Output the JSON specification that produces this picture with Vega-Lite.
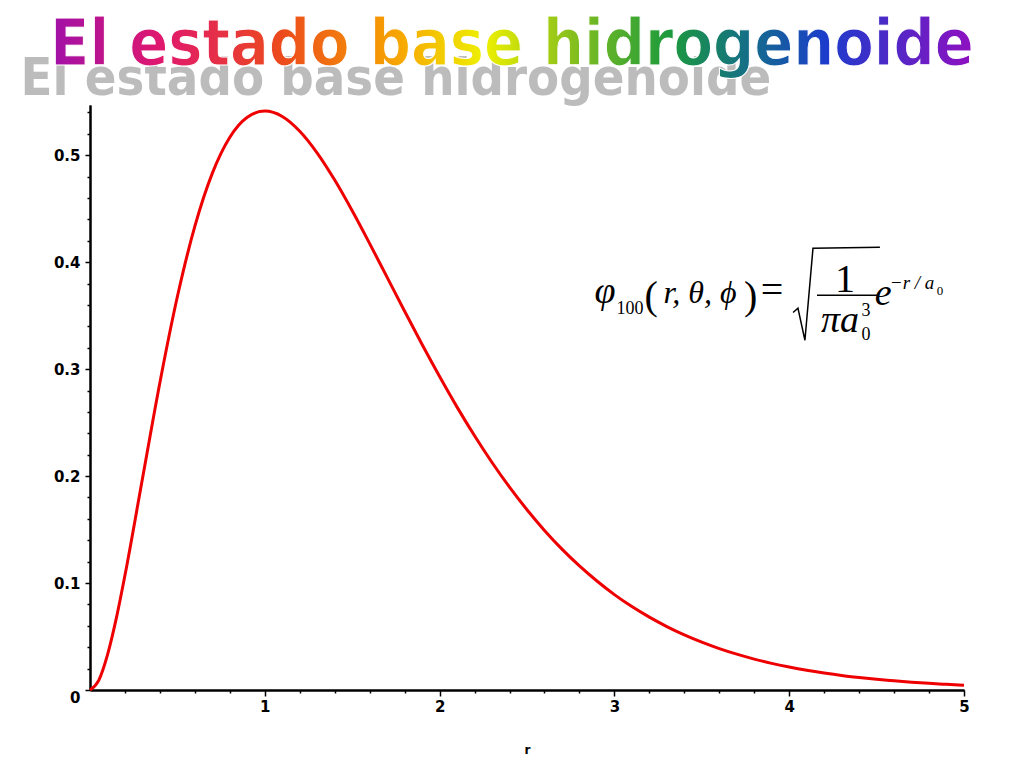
{
  "$schema": "https://vega.github.io/schema/vega-lite/v6.json",
  "width": 874,
  "height": 585,
  "autosize": "none",
  "padding": {"left": 90, "top": 105, "right": 60, "bottom": 78},
  "background": "white",
  "config": {"view": {"stroke": null}, "axis": {"labelFontSize": 15, "labelFont": "DejaVu Sans", "labelFontWeight": "bold", "labelColor": "black"}},
  "resolve": {"axis": {"x": "independent", "y": "independent"}},
  "datasets": {
    "curve": [
      {"r": 0, "p": 0}, {"r": 0.05, "p": 0.009}, {"r": 0.1, "p": 0.0328}, {"r": 0.15, "p": 0.0667},
      {"r": 0.2, "p": 0.1073}, {"r": 0.3, "p": 0.1976}, {"r": 0.4, "p": 0.2876}, {"r": 0.5, "p": 0.3679},
      {"r": 0.6, "p": 0.4337}, {"r": 0.7, "p": 0.4833}, {"r": 0.8, "p": 0.5169}, {"r": 0.9, "p": 0.5356},
      {"r": 1.0, "p": 0.5413}, {"r": 1.1, "p": 0.5363}, {"r": 1.2, "p": 0.5225}, {"r": 1.3, "p": 0.5021},
      {"r": 1.4, "p": 0.4768}, {"r": 1.5, "p": 0.4481}, {"r": 1.6, "p": 0.4174}, {"r": 1.7, "p": 0.3858},
      {"r": 1.8, "p": 0.3541}, {"r": 1.9, "p": 0.323}, {"r": 2.0, "p": 0.2931}, {"r": 2.1, "p": 0.2645},
      {"r": 2.2, "p": 0.2377}, {"r": 2.3, "p": 0.2127}, {"r": 2.4, "p": 0.1896}, {"r": 2.5, "p": 0.1685},
      {"r": 2.6, "p": 0.1492}, {"r": 2.7, "p": 0.1317}, {"r": 2.8, "p": 0.116}, {"r": 2.9, "p": 0.1019},
      {"r": 3.0, "p": 0.0892}, {"r": 3.1, "p": 0.078}, {"r": 3.2, "p": 0.0681}, {"r": 3.3, "p": 0.0593},
      {"r": 3.4, "p": 0.0515}, {"r": 3.5, "p": 0.0447}, {"r": 3.6, "p": 0.0387}, {"r": 3.7, "p": 0.0335},
      {"r": 3.8, "p": 0.0289}, {"r": 3.9, "p": 0.0249}, {"r": 4.0, "p": 0.0215}, {"r": 4.1, "p": 0.0185},
      {"r": 4.2, "p": 0.0159}, {"r": 4.3, "p": 0.0136}, {"r": 4.4, "p": 0.0117}, {"r": 4.5, "p": 0.01},
      {"r": 4.6, "p": 0.0086}, {"r": 4.7, "p": 0.0073}, {"r": 4.8, "p": 0.0062}, {"r": 4.9, "p": 0.0053},
      {"r": 5.0, "p": 0.0045}
    ],
    "titletext": [{"t": "El estado base hidrogenoide", "r": 2.414, "p": 0.584}],
    "shadowtext": [{"t": "El estado base hidrogenoide", "r": 1.75, "p": 0.556}],
    "italic": [
      {"t": "r, θ, ϕ", "r": 3.49, "p": 0.362}
    ],
    "bigitalic": [
      {"t": "φ", "r": 2.946, "p": 0.362},
      {"t": "e", "r": 4.537, "p": 0.36},
      {"t": "πa", "r": 4.291, "p": 0.335}
    ],
    "upright": [
      {"t": "1", "r": 4.319, "p": 0.372}
    ],
    "parens": [
      {"t": "(", "r": 3.21, "p": 0.356},
      {"t": ")", "r": 3.78, "p": 0.356},
      {"t": "=", "r": 3.902, "p": 0.362}
    ],
    "small": [
      {"t": "100", "r": 3.089, "p": 0.352},
      {"t": "3", "r": 4.439, "p": 0.35},
      {"t": "0", "r": 4.439, "p": 0.327}
    ],
    "supitalic": [{"t": "−r / a", "r": 4.703, "p": 0.375}],
    "tiny": [{"t": "0", "r": 4.863, "p": 0.369}],
    "bar": [{"r": 4.159, "r2": 4.502, "p": 0.369}],
    "radical": [
      {"i": 1, "r": 4.022, "p": 0.353},
      {"i": 2, "r": 4.05, "p": 0.357},
      {"i": 3, "r": 4.09, "p": 0.327},
      {"i": 4, "r": 4.136, "p": 0.413},
      {"i": 5, "r": 4.519, "p": 0.414}
    ]
  },
  "layer": [
    {
      "data": {"name": "curve"},
      "mark": {"type": "line", "color": "#ee0000", "strokeWidth": 3, "interpolate": "monotone", "clip": false},
      "encoding": {
        "x": {
          "field": "r", "type": "quantitative",
          "scale": {"domain": [0, 5], "nice": false, "zero": false},
          "axis": {
            "orient": "bottom",
            "values": [1, 2, 3, 4, 5],
            "format": "d",
            "title": "r",
            "titleFont": "DejaVu Sans", "titleFontWeight": "bold", "titleFontSize": 12, "titlePadding": 30,
            "labelFont": "DejaVu Sans", "labelFontWeight": "bold", "labelFontSize": 15, "labelColor": "black",
            "labelOverlap": false, "labelFlush": false, "labelPadding": 3,
            "domainColor": "black", "domainWidth": 2,
            "tickColor": "black", "tickWidth": 1.5, "tickSize": 6,
            "grid": false
          }
        },
        "y": {
          "field": "p", "type": "quantitative",
          "scale": {"domain": [0, 0.547], "nice": false},
          "axis": {
            "orient": "left",
            "values": [0, 0.1, 0.2, 0.3, 0.4, 0.5],
            "labelExpr": "datum.value == 0 ? '0' : format(datum.value, '.1f')",
            "title": null,
            "labelFont": "DejaVu Sans", "labelFontWeight": "bold", "labelFontSize": 15, "labelColor": "black",
            "labelOverlap": false, "labelFlush": false, "labelPadding": 5,
            "labelOffset": {"condition": {"test": "datum.value == 0", "value": 7}, "value": 0},
            "domainColor": "black", "domainWidth": 2,
            "tickColor": "black", "tickWidth": 1.5, "tickSize": 5,
            "grid": false
          }
        }
      }
    },
    {
      "data": {"name": "bar"},
      "mark": {"type": "rule", "color": "black", "strokeWidth": 1.5},
      "encoding": {
        "x": {
          "field": "r", "type": "quantitative",
          "axis": {
            "orient": "bottom",
            "values": [0.2, 0.4, 0.6, 0.8, 1.2, 1.4, 1.6, 1.8, 2.2, 2.4, 2.6, 2.8, 3.2, 3.4, 3.6, 3.8, 4.2, 4.4, 4.6, 4.8],
            "labels": false, "title": null,
            "domainColor": "black", "domainWidth": 2,
            "tickColor": "black", "tickWidth": 1.5, "tickSize": 3,
            "grid": false
          }
        },
        "x2": {"field": "r2"},
        "y": {
          "field": "p", "type": "quantitative",
          "axis": {
            "orient": "left",
            "values": [0.02, 0.04, 0.06, 0.08, 0.12, 0.14, 0.16, 0.18, 0.22, 0.24, 0.26, 0.28, 0.32, 0.34, 0.36, 0.38, 0.42, 0.44, 0.46, 0.48, 0.52, 0.54],
            "labels": false, "title": null,
            "domainColor": "black", "domainWidth": 2,
            "tickColor": "black", "tickWidth": 1.5, "tickSize": 3,
            "grid": false
          }
        }
      }
    },
    {
      "data": {"name": "shadowtext"},
      "mark": {"type": "text", "font": "DejaVu Sans Condensed, sans-serif", "fontWeight": "bold", "fontSize": 52, "color": "#bcbcbc", "align": "center", "baseline": "alphabetic", "clip": false},
      "encoding": {"x": {"field": "r", "type": "quantitative", "axis": null}, "y": {"field": "p", "type": "quantitative", "axis": null}, "text": {"field": "t"}}
    },
    {
      "data": {"name": "titletext"},
      "mark": {
        "type": "text", "font": "DejaVu Sans Condensed, sans-serif", "fontWeight": "bold", "fontSize": 64,
        "align": "center", "baseline": "alphabetic", "clip": false, "stroke": "white", "strokeWidth": 1,
        "color": {
          "gradient": "linear", "x1": 0, "x2": 1, "y1": 0, "y2": 0,
          "stops": [
            {"offset": 0, "color": "#a010a8"},
            {"offset": 0.12, "color": "#e0186e"},
            {"offset": 0.25, "color": "#ec4a1c"},
            {"offset": 0.38, "color": "#f7a800"},
            {"offset": 0.47, "color": "#eef000"},
            {"offset": 0.56, "color": "#8cc21c"},
            {"offset": 0.67, "color": "#1c9a3c"},
            {"offset": 0.76, "color": "#146c8c"},
            {"offset": 0.84, "color": "#1c3ccc"},
            {"offset": 1, "color": "#9010c0"}
          ]
        }
      },
      "encoding": {"x": {"field": "r", "type": "quantitative", "axis": null}, "y": {"field": "p", "type": "quantitative", "axis": null}, "text": {"field": "t"}}
    },
    {
      "data": {"name": "italic"},
      "mark": {"type": "text", "font": "Liberation Serif", "fontStyle": "italic", "fontSize": 32, "color": "black", "align": "center", "baseline": "alphabetic"},
      "encoding": {"x": {"field": "r", "type": "quantitative", "axis": null}, "y": {"field": "p", "type": "quantitative", "axis": null}, "text": {"field": "t"}}
    },
    {
      "data": {"name": "bigitalic"},
      "mark": {"type": "text", "font": "Liberation Serif", "fontStyle": "italic", "fontSize": 38, "color": "black", "align": "center", "baseline": "alphabetic"},
      "encoding": {"x": {"field": "r", "type": "quantitative", "axis": null}, "y": {"field": "p", "type": "quantitative", "axis": null}, "text": {"field": "t"}}
    },
    {
      "data": {"name": "upright"},
      "mark": {"type": "text", "font": "Liberation Serif", "fontSize": 40, "color": "black", "align": "center", "baseline": "alphabetic"},
      "encoding": {"x": {"field": "r", "type": "quantitative", "axis": null}, "y": {"field": "p", "type": "quantitative", "axis": null}, "text": {"field": "t"}}
    },
    {
      "data": {"name": "parens"},
      "mark": {"type": "text", "font": "Liberation Serif", "fontSize": 40, "color": "black", "align": "center", "baseline": "alphabetic"},
      "encoding": {"x": {"field": "r", "type": "quantitative", "axis": null}, "y": {"field": "p", "type": "quantitative", "axis": null}, "text": {"field": "t"}}
    },
    {
      "data": {"name": "small"},
      "mark": {"type": "text", "font": "Liberation Serif", "fontSize": 18, "color": "black", "align": "center", "baseline": "alphabetic"},
      "encoding": {"x": {"field": "r", "type": "quantitative", "axis": null}, "y": {"field": "p", "type": "quantitative", "axis": null}, "text": {"field": "t"}}
    },
    {
      "data": {"name": "supitalic"},
      "mark": {"type": "text", "font": "Liberation Serif", "fontStyle": "italic", "fontSize": 19, "color": "black", "align": "center", "baseline": "alphabetic"},
      "encoding": {"x": {"field": "r", "type": "quantitative", "axis": null}, "y": {"field": "p", "type": "quantitative", "axis": null}, "text": {"field": "t"}}
    },
    {
      "data": {"name": "tiny"},
      "mark": {"type": "text", "font": "Liberation Serif", "fontSize": 13, "color": "black", "align": "center", "baseline": "alphabetic"},
      "encoding": {"x": {"field": "r", "type": "quantitative", "axis": null}, "y": {"field": "p", "type": "quantitative", "axis": null}, "text": {"field": "t"}}
    },
    {
      "data": {"name": "radical"},
      "mark": {"type": "line", "color": "black", "strokeWidth": 1.5},
      "encoding": {"x": {"field": "r", "type": "quantitative", "axis": null}, "y": {"field": "p", "type": "quantitative", "axis": null}, "order": {"field": "i"}}
    }
  ]
}
